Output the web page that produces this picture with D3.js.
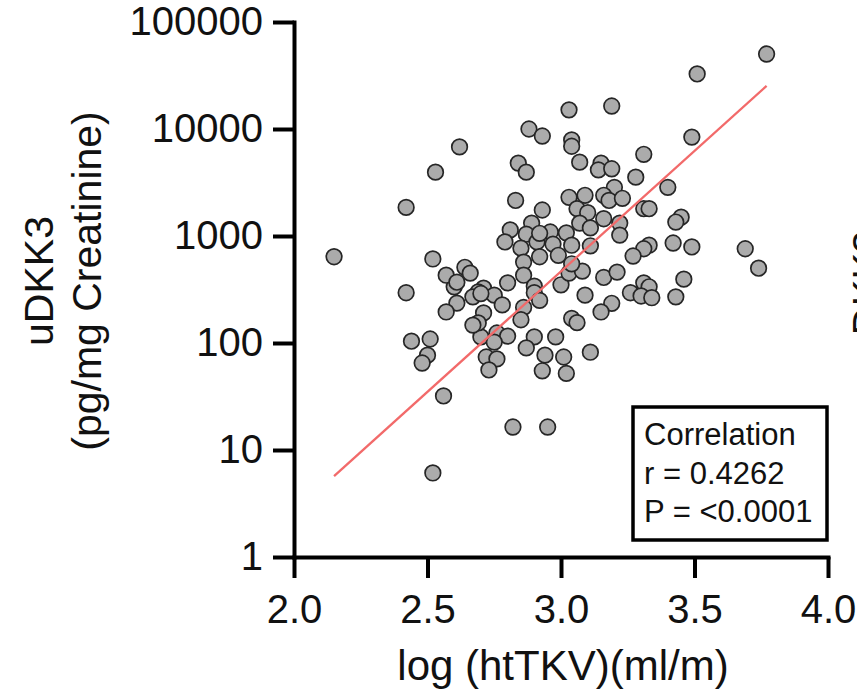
<!DOCTYPE html>
<html>
<head>
<meta charset="utf-8">
<script src="https://cdn.jsdelivr.net/npm/d3@7"></script>
<style>
  body { margin: 0; background: #fff; }
  svg { display: block; font-family: "Liberation Sans", Arial, Helvetica, sans-serif; }
</style>
</head>
<body>
<div class="vis-scatter"></div>
<script>
// log (htTKV) per patient
const htTKV = [
  3.77, 3.51, 3.03, 3.19, 2.88, 2.93, 3.49, 2.62, 3.04, 3.04,
  3.31, 3.07, 2.84, 2.87, 2.53, 3.15, 3.14, 3.19, 3.28, 3.40,
  3.20, 2.42, 2.83, 3.03, 3.09, 3.16, 3.18, 3.23, 2.93, 3.06,
  3.10, 3.31, 3.33, 3.45, 3.43, 3.16, 3.22, 3.07, 3.11, 2.89,
  2.81, 2.96, 3.02, 3.22, 2.87, 2.79, 2.85, 2.91, 2.97, 3.04,
  3.11, 3.33, 3.31, 3.42, 3.49, 3.69, 3.74, 3.27, 2.92, 2.99,
  2.15, 2.52, 2.86, 2.86, 3.00, 3.03, 3.08, 3.04, 3.16, 3.21,
  3.31, 3.33, 3.46, 3.09, 3.19, 3.15, 3.26, 3.30, 3.34, 3.43,
  3.04, 3.06, 2.98, 3.11, 3.01, 3.02, 2.90, 2.87, 2.94, 2.93,
  2.95, 2.82, 2.56, 2.52, 2.90, 2.90, 2.92, 2.86, 2.85, 2.42,
  2.44, 2.51, 2.50, 2.48, 2.72, 2.76, 2.73, 2.70, 2.76, 2.80,
  2.75, 2.60, 2.61, 2.57, 2.71, 2.69, 2.67, 2.75, 2.78, 2.80,
  2.71, 2.69, 2.67, 2.57, 2.64, 2.66, 2.92, 2.70, 2.61
];
// uDKK3 (pg/mg creatinine), same order
const uDKK3 = [
  50200, 32700, 15100, 16400, 10000, 8600, 8400, 6800, 7900, 6900,
  5800, 4900, 4800, 3950, 3950, 4800, 4150, 4250, 3550, 2850,
  2850, 1850, 2150, 2300, 2400, 2400, 2150, 2250, 1750, 1800,
  1650, 1800, 1800, 1500, 1350, 1450, 1320, 1320, 1190, 1320,
  1140, 1090, 1070, 1020, 1040, 880, 770, 880, 840, 820,
  810, 820, 760, 860, 790, 760, 500, 650, 640, 660,
  640, 610, 570, 430, 350, 450, 470, 550, 410, 460,
  365, 335, 395, 280, 235, 195, 295, 275, 265, 270,
  170, 155, 114, 82, 74, 52, 114, 90, 77, 55,
  16.4, 16.4, 32, 6.1, 340, 295, 250, 215, 165, 295,
  104, 109, 77, 65, 74, 71, 56, 114, 124, 116,
  102, 335, 236, 195, 326, 300, 270, 280, 227, 365,
  191, 154, 147, 430, 510, 450, 1060, 290, 370
];
// regression line end points
const fitX = [2.15, 3.77];
const fitY = [5.7, 25300];

const xTicks = [2.0, 2.5, 3.0, 3.5, 4.0];
const yTicks = [1, 10, 100, 1000, 10000, 100000];
const statLines = ["Correlation", "r = 0.4262", "P = <0.0001"];

const W = 857, H = 694;
const margin = { top: 22, right: 29, bottom: 137, left: 294 };

const svg = d3.select(".vis-scatter")
  .append("svg")
  .attr("width", W)
  .attr("height", H)
  .style("overflow", "hidden");

const x = d3.scaleLinear()
  .domain([2, 4])
  .range([margin.left, W - margin.right]);

const y = d3.scaleLog()
  .domain([1, 100000])
  .range([H - margin.bottom, margin.top]);

// points
svg.append("g")
  .selectAll("circle")
  .data(htTKV.map((v, i) => [v, uDKK3[i]]))
  .join("circle")
  .attr("cx", d => x(d[0]))
  .attr("cy", d => y(d[1]))
  .attr("r", 7.8)
  .attr("fill", "#ababab")
  .attr("stroke", "#262626")
  .attr("stroke-width", 1.7);

// fit line
svg.append("path")
  .datum(fitX.map((v, i) => [v, fitY[i]]))
  .attr("fill", "none")
  .attr("stroke", "#f26a6a")
  .attr("stroke-width", 2.3)
  .attr("d", d3.line().x(d => x(d[0])).y(d => y(d[1])));

// axes
const yAxis = svg.append("g")
  .attr("transform", `translate(${margin.left},0)`)
  .call(d3.axisLeft(y).tickValues(yTicks).tickFormat(d3.format("d"))
    .tickSize(21).tickSizeOuter(0).tickPadding(10));

const xAxis = svg.append("g")
  .attr("transform", `translate(0,${H - margin.bottom})`)
  .call(d3.axisBottom(x).tickValues(xTicks).tickFormat(d3.format(".1f"))
    .tickSize(21).tickSizeOuter(0).tickPadding(17));

[yAxis, xAxis].forEach(g => {
  g.select(".domain").attr("stroke", "#000").attr("stroke-width", 4).attr("stroke-linecap", "square");
  g.selectAll(".tick line").attr("stroke", "#000").attr("stroke-width", 4);
  g.selectAll(".tick text")
    .attr("fill", "#111")
    .style("font-size", "40px")
    .style("font-family", '"Liberation Sans", Arial, sans-serif');
});

// axis titles
svg.append("text")
  .attr("x", (margin.left + W - margin.right) / 2 + 2)
  .attr("y", 680)
  .attr("text-anchor", "middle")
  .style("font-size", "42px")
  .attr("fill", "#111")
  .text("log (htTKV)(ml/m)");

const yTitle = svg.append("text")
  .attr("transform", "translate(0,281) rotate(-90)")
  .attr("text-anchor", "middle")
  .style("font-size", "41px")
  .attr("fill", "#111");
yTitle.append("tspan").attr("x", 0).attr("y", 53).text("uDKK3");
yTitle.append("tspan").attr("x", 0).attr("y", 101).text("(pg/mg Creatinine)");

// neighbouring panel's label, cut off at the edge as in the source figure
svg.append("text")
  .attr("transform", "translate(881,294) rotate(-90)")
  .attr("text-anchor", "middle")
  .style("font-size", "40px")
  .attr("fill", "#111")
  .text("uDKK3");

// stats box
const box = svg.append("g").attr("transform", "translate(633,407)");
box.append("rect")
  .attr("width", 194)
  .attr("height", 133)
  .attr("fill", "#fff")
  .attr("stroke", "#000")
  .attr("stroke-width", 3.5);
box.selectAll("text")
  .data(statLines)
  .join("text")
  .attr("x", 11)
  .attr("y", (d, i) => 38 + i * 38.5)
  .style("font-size", "31px")
  .attr("fill", "#111")
  .text(d => d);
</script>
</body>
</html>
